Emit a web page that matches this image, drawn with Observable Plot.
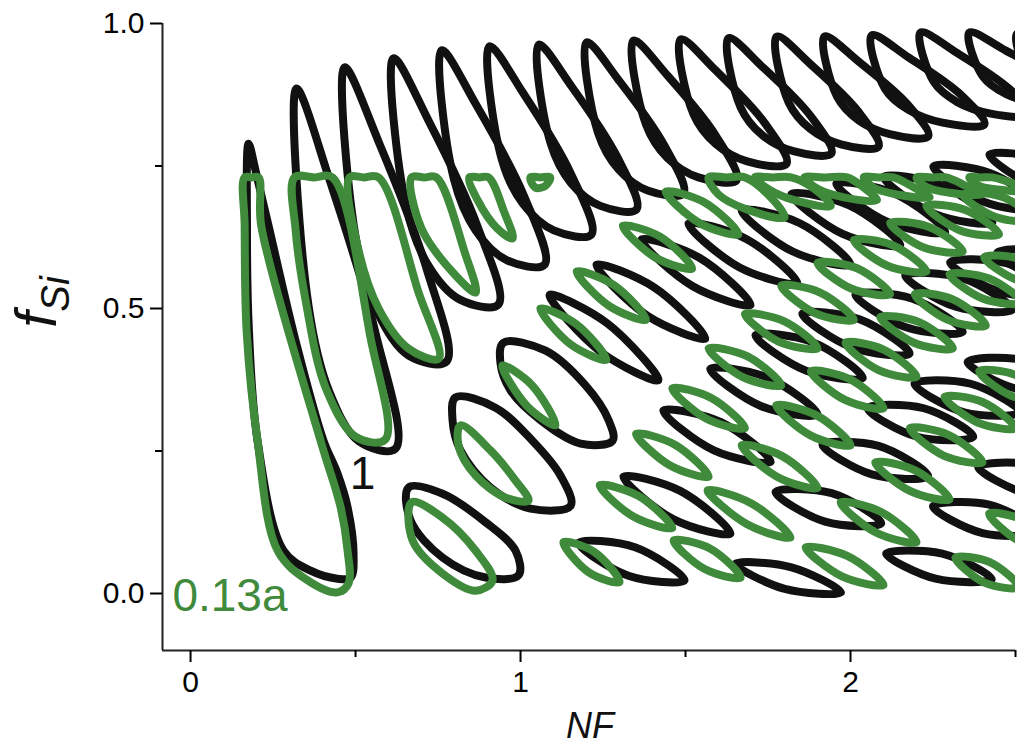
<!DOCTYPE html>
<html>
<head>
<meta charset="utf-8">
<script src="https://cdn.jsdelivr.net/npm/d3@7"></script>
<script src="https://cdn.jsdelivr.net/npm/@observablehq/plot@0.6"></script>
<style>
  html, body { margin: 0; padding: 0; background: #fff; overflow: hidden; }
  #chart svg { display: block; }
</style>
</head>
<body>
<div id="chart"></div>
<script>
// Axis ticks
const xMajorTicks = [0, 1, 2];
const xMinorTicks = [0.5, 1.5, 2.5];
const yMajorTicks = [0, 0.5, 1.0];
const yMinorTicks = [0.25, 0.75];

// Black loops (curve "1"): closed outlines, [NF, fSi] vertices
const blackRow1 = [
  [[0.176,0.789],[0.171,0.645],[0.177,0.46],[0.203,0.268],[0.282,0.075],[0.364,0.04],[0.445,0.026],[0.485,0.028],[0.494,0.07],[0.476,0.151],[0.445,0.211],[0.403,0.268],[0.318,0.444],[0.236,0.646],[0.197,0.742]],
  [[0.321,0.886],[0.357,0.507],[0.420,0.355],[0.510,0.267],[0.621,0.254],[0.561,0.456],[0.420,0.728]],
  [[0.467,0.923],[0.504,0.613],[0.569,0.490],[0.662,0.417],[0.776,0.407],[0.714,0.572],[0.569,0.794]],
  [[0.615,0.939],[0.653,0.680],[0.720,0.576],[0.815,0.516],[0.933,0.507],[0.869,0.645],[0.720,0.831]],
  [[0.761,0.953],[0.798,0.727],[0.864,0.637],[0.958,0.585],[1.073,0.577],[1.011,0.697],[0.864,0.859]],
  [[0.906,0.960],[0.943,0.762],[1.008,0.683],[1.101,0.637],[1.215,0.630],[1.153,0.736],[1.008,0.878]],
  [[1.055,0.963],[1.091,0.790],[1.153,0.720],[1.242,0.680],[1.352,0.674],[1.293,0.766],[1.153,0.891]],
  [[1.200,0.967],[1.235,0.808],[1.297,0.744],[1.385,0.707],[1.494,0.702],[1.435,0.787],[1.297,0.901]],
  [[1.342,0.970],[1.380,0.823],[1.445,0.764],[1.539,0.730],[1.655,0.725],[1.592,0.803],[1.445,0.909]],
  [[1.485,0.972],[1.524,0.841],[1.591,0.789],[1.687,0.758],[1.806,0.754],[1.742,0.824],[1.591,0.918]],
  [[1.630,0.974],[1.667,0.853],[1.733,0.804],[1.827,0.776],[1.942,0.772],[1.880,0.837],[1.733,0.924]],
  [[1.776,0.977],[1.813,0.861],[1.878,0.815],[1.971,0.788],[2.085,0.784],[2.023,0.846],[1.878,0.929]],
  [[1.921,0.977],[1.959,0.872],[2.025,0.830],[2.119,0.806],[2.236,0.802],[2.173,0.858],[2.025,0.933]],
  [[2.064,0.979],[2.105,0.885],[2.177,0.848],[2.279,0.826],[2.406,0.823],[2.338,0.873],[2.177,0.940]],
  [[2.212,0.984],[2.253,0.897],[2.324,0.862],[2.425,0.842],[2.550,0.839],[2.482,0.885],[2.324,0.948]],
  [[2.360,0.984],[2.401,0.907],[2.472,0.876],[2.574,0.859],[2.700,0.856],[2.632,0.897],[2.472,0.952]],
  [[2.505,0.982],[2.545,0.905],[2.620,0.878],[2.720,0.860],[2.840,0.870],[2.780,0.900],[2.620,0.955]]
];

const blackRow2 = [
  [[0.661,0.186],[0.764,0.175],[0.894,0.125],[0.985,0.075],[0.994,0.032],[0.894,0.028],[0.764,0.063],[0.667,0.128]],
  [[0.803,0.344],[0.924,0.326],[1.036,0.268],[1.121,0.207],[1.152,0.154],[1.030,0.149],[0.909,0.186],[0.818,0.251],[0.794,0.304]],
  [[0.948,0.440],[1.076,0.426],[1.197,0.365],[1.267,0.304],[1.279,0.268],[1.182,0.263],[1.061,0.304],[0.970,0.356],[0.939,0.405]],
  [[1.088,0.524],[1.243,0.424],[1.418,0.374],[1.263,0.474]],
  [[1.230,0.577],[1.385,0.487],[1.560,0.447],[1.405,0.537]],
  [[1.367,0.621],[1.522,0.539],[1.697,0.506],[1.542,0.589]],
  [[1.509,0.649],[1.664,0.572],[1.839,0.544],[1.684,0.622]],
  [[1.670,0.672],[1.825,0.600],[2.000,0.577],[1.845,0.650]],
  [[1.821,0.701],[1.976,0.631],[2.151,0.611],[1.996,0.681]],
  [[1.957,0.719],[2.112,0.652],[2.287,0.634],[2.132,0.702]],
  [[2.100,0.731],[2.255,0.666],[2.430,0.651],[2.275,0.716]],
  [[2.251,0.749],[2.406,0.687],[2.581,0.674],[2.426,0.737]],
  [[2.421,0.770],[2.576,0.710],[2.751,0.700],[2.596,0.760]]
];

const blackRow3 = [
  [[1.176,0.089],[1.327,0.031],[1.497,0.023],[1.347,0.081]],
  [[1.312,0.205],[1.464,0.130],[1.636,0.105],[1.484,0.180]],
  [[1.433,0.321],[1.586,0.251],[1.758,0.231],[1.606,0.301]],
  [[1.575,0.394],[1.728,0.329],[1.900,0.314],[1.748,0.379]],
  [[1.712,0.453],[1.865,0.391],[2.037,0.378],[1.885,0.441]],
  [[1.854,0.491],[2.007,0.431],[2.179,0.421],[2.027,0.481]],
  [[2.015,0.524],[2.168,0.467],[2.340,0.459],[2.188,0.517]],
  [[2.166,0.558],[2.319,0.503],[2.491,0.498],[2.339,0.553]],
  [[2.302,0.581],[2.455,0.529],[2.627,0.526],[2.475,0.579]],
  [[2.445,0.598],[2.598,0.548],[2.770,0.548],[2.618,0.598]]
];

const blackRow4 = [
  [[1.651,0.052],[1.801,0.008],[1.971,0.002],[1.821,0.046]],
  [[1.773,0.178],[1.923,0.126],[2.093,0.123],[1.943,0.176]],
  [[1.915,0.261],[2.065,0.209],[2.235,0.206],[2.085,0.259]],
  [[2.052,0.325],[2.202,0.275],[2.372,0.275],[2.222,0.325]],
  [[2.194,0.368],[2.344,0.318],[2.514,0.318],[2.364,0.368]],
  [[2.355,0.406],[2.505,0.359],[2.675,0.361],[2.525,0.409]]
];

const blackRow5 = [
  [[2.108,0.070],[2.258,0.026],[2.428,0.025],[2.278,0.070]],
  [[2.250,0.153],[2.400,0.106],[2.570,0.108],[2.420,0.156]],
  [[2.387,0.222],[2.537,0.175],[2.707,0.177],[2.557,0.225]]
];

// Green loops (curve "0.13a"), capped at fSi = 0.73
const greenRow1 = [
  [[0.164,0.73],[0.185,0.73],[0.206,0.73],[0.214,0.646],[0.394,0.268],[0.455,0.151],[0.476,0.075],[0.479,0.018],[0.445,0.002],[0.355,0.023],[0.264,0.075],[0.203,0.268],[0.170,0.46],[0.164,0.646]],
  [[0.315,0.73],[0.375,0.73],[0.430,0.73],[0.545,0.45],[0.590,0.27],[0.500,0.275],[0.410,0.36],[0.350,0.51],[0.318,0.64]],
  [[0.482,0.73],[0.525,0.73],[0.570,0.73],[0.690,0.53],[0.752,0.412],[0.660,0.43],[0.570,0.50],[0.510,0.60]],
  [[0.670,0.73],[0.708,0.73],[0.745,0.73],[0.830,0.60],[0.864,0.528],[0.800,0.56],[0.700,0.64]],
  [[0.845,0.73],[0.875,0.73],[0.903,0.73],[0.950,0.67],[0.976,0.623],[0.930,0.64],[0.870,0.69]],
  [[1.030,0.73],[1.060,0.73],[1.090,0.73],[1.075,0.715],[1.045,0.712]]
];

const greenRow2 = [
  [[0.670,0.16],[0.764,0.133],[0.864,0.075],[0.915,0.023],[0.864,0.005],[0.764,0.035],[0.673,0.093]],
  [[0.818,0.295],[0.909,0.251],[0.985,0.198],[1.024,0.163],[0.955,0.168],[0.864,0.207],[0.812,0.26]],
  [[0.945,0.400],[1.018,0.330],[1.106,0.295],[1.034,0.366]],
  [[1.060,0.500],[1.152,0.437],[1.260,0.410],[1.168,0.473]],
  [[1.170,0.565],[1.267,0.505],[1.380,0.480],[1.283,0.541]],
  [[1.310,0.645],[1.407,0.590],[1.520,0.570],[1.423,0.626]],
  [[1.440,0.705],[1.542,0.650],[1.660,0.630],[1.558,0.686]],
  [[1.570,0.73],[1.625,0.73],[1.680,0.73],[1.750,0.700],[1.800,0.660],[1.680,0.675],[1.600,0.700]],
  [[1.710,0.73],[1.765,0.73],[1.820,0.73],[1.890,0.710],[1.940,0.680],[1.830,0.690],[1.750,0.710]],
  [[1.860,0.73],[1.925,0.73],[1.990,0.73],[2.040,0.712],[2.080,0.690],[1.980,0.695],[1.900,0.710]],
  [[2.040,0.73],[2.085,0.73],[2.130,0.73],[2.190,0.713],[2.240,0.695],[2.140,0.700],[2.070,0.712]],
  [[2.200,0.73],[2.245,0.73],[2.290,0.73],[2.350,0.715],[2.400,0.700],[2.300,0.703],[2.230,0.713]],
  [[2.360,0.73],[2.395,0.73],[2.430,0.73],[2.500,0.718],[2.560,0.705],[2.460,0.708],[2.390,0.715]]
];

const greenRow3 = [
  [[1.130,0.090],[1.207,0.037],[1.300,0.020],[1.223,0.073]],
  [[1.240,0.190],[1.342,0.135],[1.460,0.115],[1.358,0.171]],
  [[1.350,0.280],[1.452,0.225],[1.570,0.205],[1.468,0.261]],
  [[1.460,0.360],[1.562,0.307],[1.680,0.290],[1.578,0.343]],
  [[1.570,0.430],[1.672,0.380],[1.790,0.365],[1.688,0.416]],
  [[1.680,0.490],[1.782,0.442],[1.900,0.430],[1.798,0.478]],
  [[1.790,0.540],[1.892,0.492],[2.010,0.480],[1.908,0.528]],
  [[1.900,0.580],[2.002,0.535],[2.120,0.525],[2.018,0.571]],
  [[2.010,0.620],[2.112,0.575],[2.230,0.565],[2.128,0.611]],
  [[2.120,0.650],[2.222,0.607],[2.340,0.600],[2.238,0.643]],
  [[2.230,0.680],[2.332,0.637],[2.450,0.630],[2.348,0.673]],
  [[2.340,0.700],[2.442,0.660],[2.560,0.655],[2.458,0.696]]
];

const greenRow4 = [
  [[1.464,0.093],[1.558,0.043],[1.667,0.028],[1.574,0.079]],
  [[1.567,0.181],[1.685,0.122],[1.818,0.098],[1.700,0.158]],
  [[1.670,0.260],[1.777,0.205],[1.900,0.185],[1.793,0.241]],
  [[1.775,0.330],[1.880,0.277],[2.000,0.260],[1.896,0.313]],
  [[1.880,0.390],[1.982,0.340],[2.100,0.325],[1.998,0.376]],
  [[1.985,0.440],[2.085,0.392],[2.200,0.380],[2.100,0.428]],
  [[2.090,0.485],[2.192,0.440],[2.310,0.430],[2.208,0.476]],
  [[2.195,0.525],[2.295,0.480],[2.410,0.470],[2.310,0.516]],
  [[2.300,0.560],[2.402,0.517],[2.520,0.510],[2.418,0.553]],
  [[2.405,0.590],[2.505,0.550],[2.620,0.545],[2.520,0.586]]
];

const greenRow5 = [
  [[1.864,0.081],[1.974,0.030],[2.100,0.015],[1.990,0.066]],
  [[1.970,0.160],[2.077,0.107],[2.200,0.090],[2.093,0.143]],
  [[2.075,0.230],[2.180,0.180],[2.300,0.165],[2.196,0.216]],
  [[2.180,0.290],[2.282,0.242],[2.400,0.230],[2.298,0.278]],
  [[2.285,0.345],[2.385,0.300],[2.500,0.290],[2.400,0.336]],
  [[2.390,0.390],[2.487,0.347],[2.600,0.340],[2.503,0.383]]
];

const greenRow6 = [
  [[2.318,0.063],[2.406,0.019],[2.510,0.011],[2.422,0.055]],
  [[2.420,0.140],[2.512,0.092],[2.620,0.080],[2.528,0.128]]
];

function toRows(loops, group) {
  const rows = [];
  loops.forEach((loop, i) => loop.forEach(([nf, f]) => rows.push({nf, f, id: group + i})));
  return rows;
}

const black = toRows([...blackRow1, ...blackRow2, ...blackRow3, ...blackRow4, ...blackRow5], "b");
const green = toRows([...greenRow1, ...greenRow2, ...greenRow3, ...greenRow4, ...greenRow5, ...greenRow6], "g");

const BLACK = "#111111";
const GREEN = "#3f8a3b";
const FONT = "Liberation Sans, Arial, sans-serif";

const chart = Plot.plot({
  width: 1025,
  height: 747,
  marginLeft: 162,
  marginRight: 10,
  marginTop: 23,
  marginBottom: 97,
  x: { domain: [-0.085, 2.5] },
  y: { domain: [-0.1, 1.0] },
  style: { fontFamily: FONT, background: "#fff" },
  marks: [
    Plot.line(black, { x: "nf", y: "f", z: "id", curve: "catmull-rom-closed", stroke: BLACK, strokeWidth: 8, strokeLinejoin: "round", clip: true }),
    Plot.line(green, { x: "nf", y: "f", z: "id", curve: "catmull-rom-closed", stroke: GREEN, strokeWidth: 8, strokeLinejoin: "round", clip: true }),
    Plot.ruleX([-0.085], { y1: -0.1, y2: 1.0, stroke: "#222", strokeWidth: 2 }),
    Plot.ruleY([-0.1], { x1: -0.085, x2: 2.5, stroke: "#222", strokeWidth: 2 }),
    Plot.axisY({ ticks: yMajorTicks, tickSize: 12, tickPadding: 6, tickFormat: d3.format(".1f"), fontSize: 30, label: null, strokeWidth: 2 }),
    Plot.axisY({ ticks: yMinorTicks, tickSize: 7, tickFormat: () => "", label: null, strokeWidth: 2 }),
    Plot.axisX({ ticks: xMajorTicks, tickSize: 12, tickPadding: 8, tickFormat: d3.format("d"), fontSize: 30, label: null, strokeWidth: 2 }),
    Plot.axisX({ ticks: xMinorTicks, tickSize: 7, tickFormat: () => "", label: null, strokeWidth: 2 }),
    Plot.text(["1"], { x: 0.521, y: 0.21, fontSize: 46, fill: BLACK }),
    Plot.text(["0.13a"], { x: -0.055, y: -0.005, fontSize: 46, fill: GREEN, textAnchor: "start" })
  ]
});

const svg = d3.select(chart);
// Axis titles
const yTitle = svg.append("text")
  .attr("transform", "translate(56,302) rotate(-90)")
  .attr("text-anchor", "middle")
  .attr("font-family", FONT)
  .attr("font-style", "italic")
  .attr("fill", "#111");
yTitle.append("tspan").attr("font-size", 58).text("f");
yTitle.append("tspan").attr("font-size", 40).attr("dy", 13).text("Si");

svg.append("text")
  .attr("x", 590).attr("y", 738)
  .attr("text-anchor", "middle")
  .attr("font-family", FONT)
  .attr("font-style", "italic")
  .attr("font-size", 36)
  .attr("fill", "#111")
  .text("NF");

document.getElementById("chart").append(chart);
</script>
</body>
</html>
